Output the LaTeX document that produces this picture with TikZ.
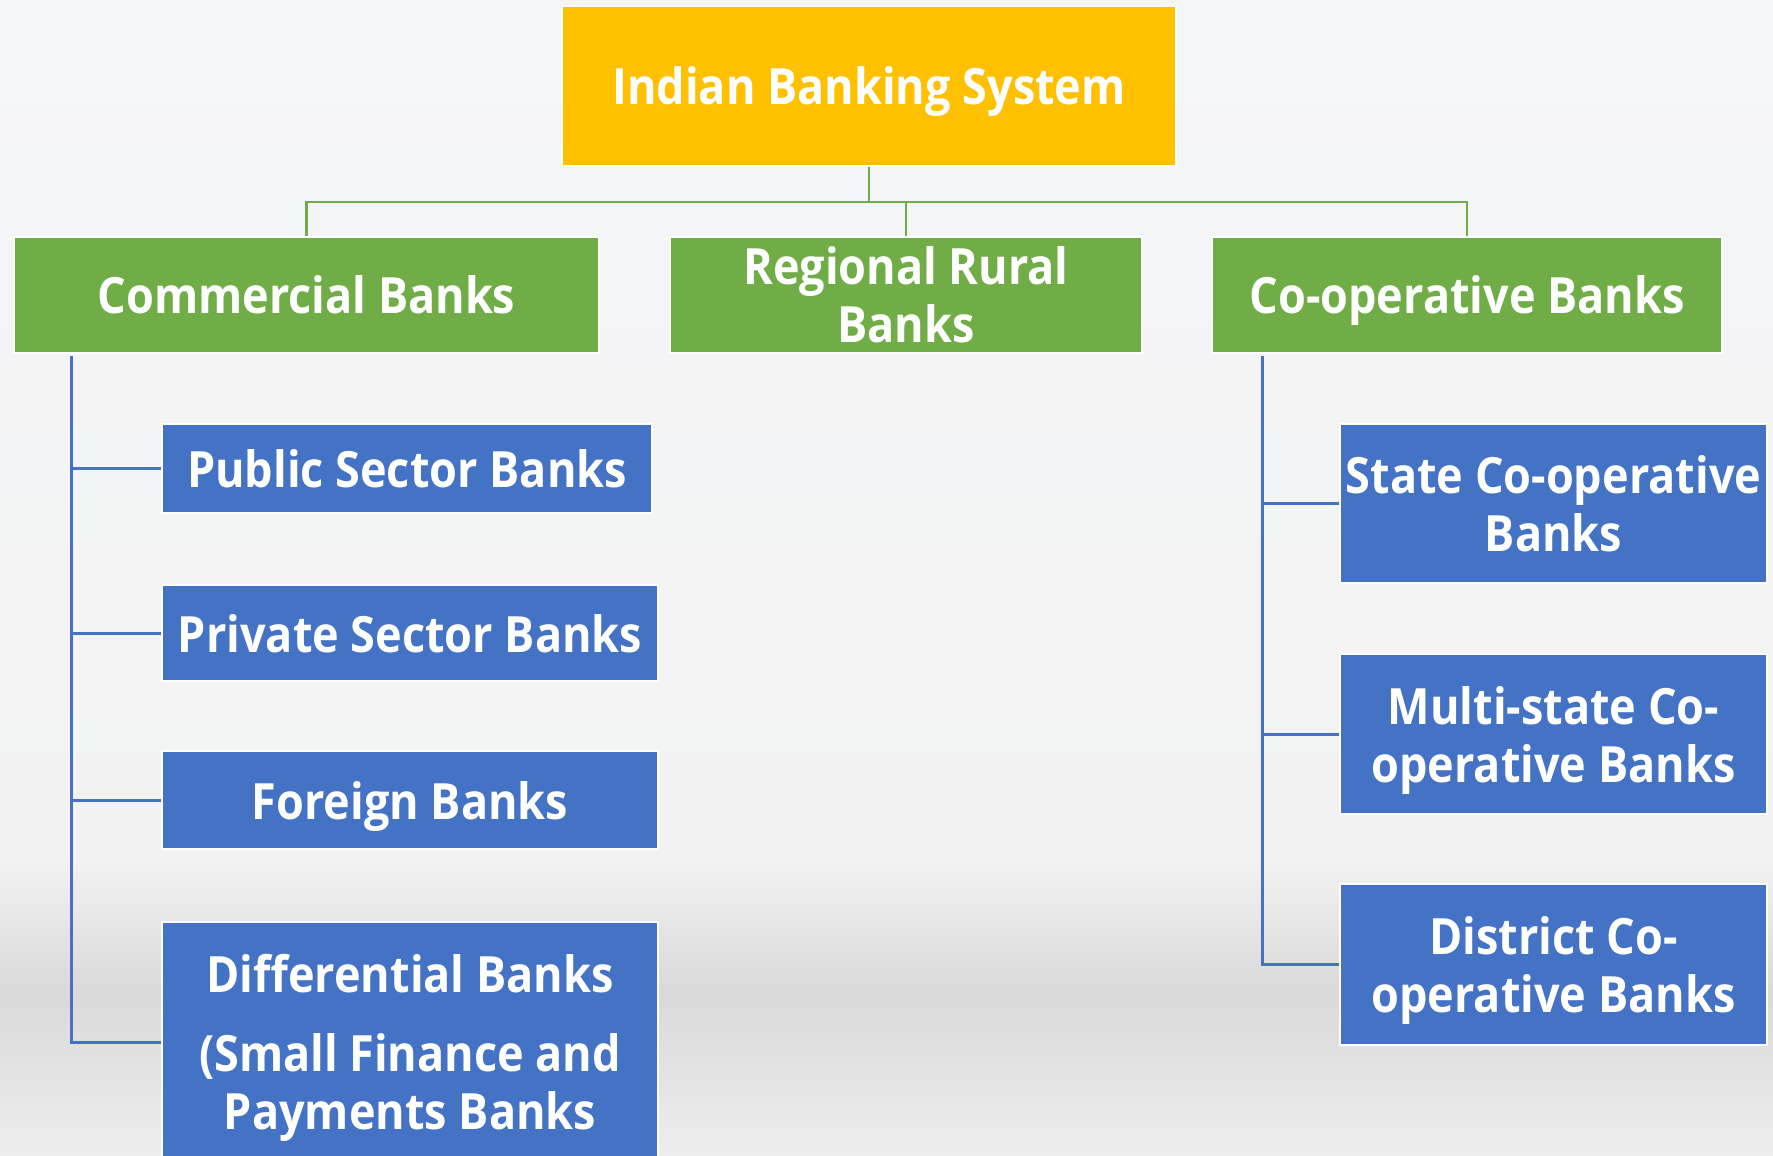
\documentclass[tikz,border=0pt]{standalone}
\usepackage{xcolor}
\usepackage{fontspec}
\setmainfont{Open Sans}[FakeStretch=0.9]
\usepackage{tikz}
\usetikzlibrary{calc}

\definecolor{rootgold}{HTML}{FFC000}
\definecolor{typegreen}{HTML}{70AD47}
\definecolor{kindblue}{HTML}{4472C4}
\definecolor{bgtop}{HTML}{F5F6F8}
\definecolor{bgmid}{HTML}{F2F2F2}
\definecolor{bgdark}{HTML}{D9D9D9}
\definecolor{bglow}{HTML}{EDEDED}

\tikzstyle{bank} = [draw=white, line width=1.5pt, text=white, inner sep=0, text depth=0pt, align=center, font=\bfseries\fontsize{50}{58}\selectfont]
\tikzstyle{root} = [bank, fill=rootgold, minimum width=614pt, minimum height=160pt]
\tikzstyle{sector} = [bank, fill=typegreen, minimum height=116pt]
\tikzstyle{kind} = [bank, fill=kindblue]
\tikzstyle{gline} = [-, draw=typegreen, line width=2.5pt]
\tikzstyle{bline} = [-, draw=kindblue, line width=3pt]

\begin{document}
\begin{tikzpicture}[x=1pt, y=-1pt]
\useasboundingbox (0, 0) rectangle (1773, 1156);
\clip (0, 0) rectangle (1773, 1156);
% background
\shade [top color=bgtop, bottom color=bgmid] (0, 0) rectangle (1773, 861);
\shade [top color=bgmid, bottom color=bgdark] (0, 860) rectangle (1773, 991);
\shade [top color=bgdark, bottom color=bglow] (0, 990) rectangle (1773, 1156);

\node [root] (IBS) at (869, 86) {Indian Banking System};

\node [sector, minimum width=585pt] (CB) at (306.5, 295) {Commercial Banks};
\node [sector, minimum width=472pt] (RRB) at (906, 295) {Regional Rural\\Banks};
\node [sector, minimum width=510pt] (COB) at (1467, 295) {Co-operative Banks};

\node [kind, minimum width=490pt, minimum height=89pt] (PSB) at (407, 468.5) {Public Sector Banks};
\node [kind, minimum width=496pt, minimum height=96pt] (PVB) at (410, 633) {Private Sector Banks};
\node [kind, minimum width=496pt, minimum height=98pt] (FB) at (410, 800) {Foreign Banks};
\node [kind, minimum width=496pt, minimum height=240pt] (DB) at (410, 1042) {Differential Banks\\[21pt](Small Finance and\\Payments Banks};

\node [kind, minimum width=427pt, minimum height=159pt] (SCB) at (1553.5, 503.5) {State Co-operative\\Banks};
\node [kind, minimum width=427pt, minimum height=160pt] (MSCB) at (1553.5, 734) {Multi-state Co-\\operative Banks};
\node [kind, minimum width=427pt, minimum height=161pt] (DCB) at (1553.5, 964.5) {District Co-\\operative Banks};

\draw [gline] (IBS.south) -- ++(0, 35) -| (CB.north);
\draw [gline] (IBS.south) -- ++(0, 35) -| (RRB.north);
\draw [gline] (IBS.south) -- ++(0, 35) -| (COB.north);

\coordinate (CBroot) at (71, 356);
\coordinate (COBroot) at (1262, 356);
\draw [bline] (CBroot) |- (DB.west);
\draw [bline] (CBroot |- PSB.west) -- (PSB.west);
\draw [bline] (CBroot |- PVB.west) -- (PVB.west);
\draw [bline] (CBroot |- FB.west) -- (FB.west);
\draw [bline] (COBroot) |- (DCB.west);
\draw [bline] (COBroot |- SCB.west) -- (SCB.west);
\draw [bline] (COBroot |- MSCB.west) -- (MSCB.west);
\end{tikzpicture}
\end{document}
